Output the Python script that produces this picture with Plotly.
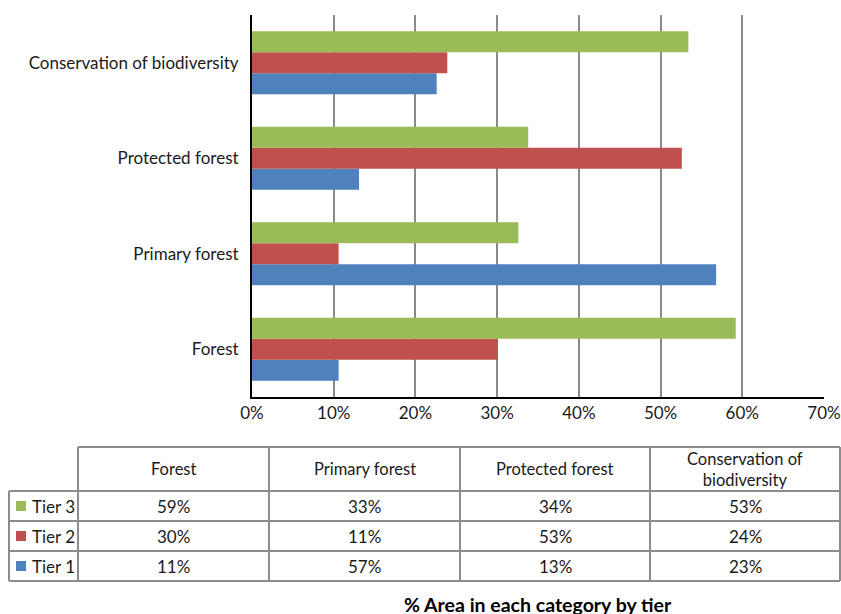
import plotly.graph_objects as go

categories = ["Forest", "Primary forest", "Protected forest", "Conservation of biodiversity"]
table_headers = ["Forest", "Primary forest", "Protected forest", "Conservation of<br>biodiversity"]
tier_names = ["Tier 1", "Tier 2", "Tier 3"]
tier1 = [10.6, 56.8, 13.1, 22.6]
tier2 = [30.1, 10.6, 52.6, 23.9]
tier3 = [59.2, 32.6, 33.8, 53.4]
colors = ["#4F81BD", "#C0504D", "#9BBB59"]
x_ticks = [0, 10, 20, 30, 40, 50, 60, 70]
x_tick_labels = ["0%", "10%", "20%", "30%", "40%", "50%", "60%", "70%"]
title_text = "% Area in each category by tier"

W, H = 841, 614
L, R, T, B = 252, 824, 15, 397
FONT = "Lato"
FS = 17

def px(x):
    return (x - L) / (R - L)

def py(y):
    return (B - y) / (B - T)

fig = go.Figure()
for name, vals, col in zip(tier_names, [tier1, tier2, tier3], colors):
    fig.add_trace(go.Bar(
        y=categories, x=vals, name=name, orientation="h",
        marker=dict(color=col, line=dict(width=0)),
        showlegend=False,
    ))

fig.update_layout(
    width=W, height=H,
    margin=dict(l=L, r=W - R, t=T, b=H - B, pad=0, autoexpand=False),
    paper_bgcolor="white", plot_bgcolor="white",
    barmode="group", bargap=0.34, bargroupgap=0,
    font=dict(family=FONT, size=FS, color="#1a1a1a"),
    xaxis=dict(range=[0, 70], tickvals=x_ticks, ticktext=x_tick_labels,
               showgrid=True, gridcolor="#8a8a8a", gridwidth=1.5,
               zeroline=False, showline=True, linecolor="#000000", linewidth=2,
               ticks="", tickfont=dict(size=FS), automargin=False),
    yaxis=dict(showgrid=False, showline=True, linecolor="#000000", linewidth=2,
               ticks="", ticklabelstandoff=8, tickfont=dict(size=FS), automargin=False),
)

# Table layout (pixel coordinates)
col_edges = [78, 269, 460, 650, 840]
row_edges = [447, 491, 521, 551, 581]
hdr_left = 9
line_col = "#8c8c8c"
shapes = []
def hline(x0, x1, y):
    shapes.append(dict(type="line", xref="paper", yref="paper", x0=px(x0), x1=px(x1),
                       y0=py(y), y1=py(y), line=dict(color=line_col, width=2)))
def vline(x, y0, y1):
    shapes.append(dict(type="line", xref="paper", yref="paper", x0=px(x), x1=px(x),
                       y0=py(y0), y1=py(y1), line=dict(color=line_col, width=2)))

hline(col_edges[0], col_edges[-1], row_edges[0])
for y in row_edges[1:]:
    hline(hdr_left, col_edges[-1], y)
for x in col_edges:
    vline(x, row_edges[0], row_edges[-1])
vline(hdr_left, row_edges[1], row_edges[-1])

annotations = []
for i, h in enumerate(table_headers):
    cx = (col_edges[i] + col_edges[i + 1]) / 2
    cy = (row_edges[0] + row_edges[1]) / 2
    annotations.append(dict(x=px(cx), y=py(cy), xref="paper", yref="paper", text=h,
                            showarrow=False, xanchor="center", yanchor="middle",
                            font=dict(size=FS - 0.5), align="center"))

rows = [("Tier 3", tier3, colors[2]), ("Tier 2", tier2, colors[1]), ("Tier 1", tier1, colors[0])]
for r, (name, vals, col) in enumerate(rows):
    y0, y1 = row_edges[r + 1], row_edges[r + 2]
    cy = (y0 + y1) / 2
    shapes.append(dict(type="rect", xref="paper", yref="paper",
                       x0=px(16), x1=px(26), y0=py(cy - 5), y1=py(cy + 5),
                       fillcolor=col, line=dict(width=0)))
    annotations.append(dict(x=px(30), y=py(cy), xref="paper", yref="paper", text=name,
                            showarrow=False, xanchor="left", yanchor="middle",
                            font=dict(size=FS)))
    for i, v in enumerate(vals):
        cx = (col_edges[i] + col_edges[i + 1]) / 2
        annotations.append(dict(x=px(cx), y=py(cy), xref="paper", yref="paper",
                                text=f"{round(v)}%", showarrow=False,
                                xanchor="center", yanchor="middle", font=dict(size=FS)))

annotations.append(dict(x=px(538), y=py(604), xref="paper", yref="paper",
                        text=f"<b>{title_text}</b>", showarrow=False,
                        xanchor="center", yanchor="middle",
                        font=dict(size=19.5, color="#000000")))

fig.update_layout(shapes=shapes, annotations=annotations)
fig.write_html("out.html")
